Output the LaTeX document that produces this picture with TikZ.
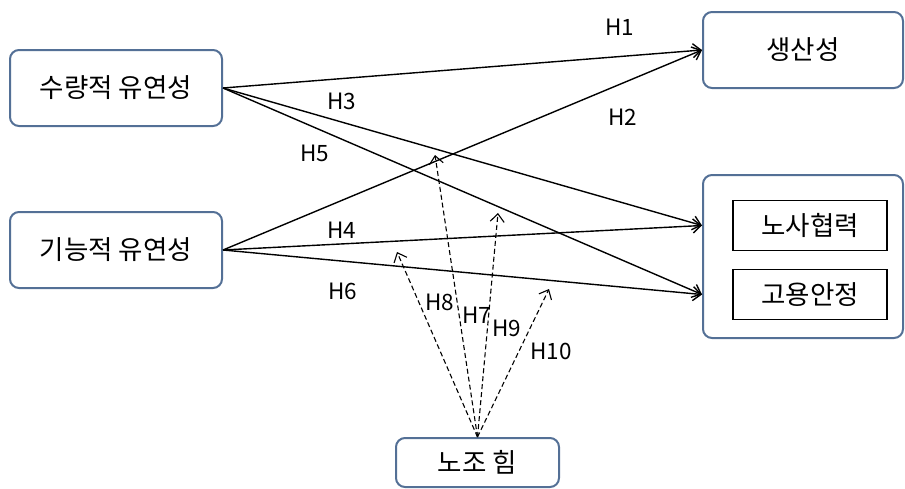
\documentclass[tikz,border=0pt]{standalone}
\usepackage{fontspec}
\setmainfont{Noto Sans CJK KR}
\usetikzlibrary{arrows.meta}
\definecolor{boxblue}{RGB}{84,112,150}

\begin{document}
\begin{tikzpicture}[x=1pt,y=-1pt,
  var/.style={draw=boxblue,line width=2pt,rounded corners=9pt,fill=white,minimum width=212pt,minimum height=76pt,inner sep=0pt,font=\fontsize{26.5}{30}\selectfont},
  sub/.style={draw=black,line width=1.2pt,minimum width=154pt,minimum height=50pt,inner sep=0pt,font=\fontsize{26.5}{30}\selectfont},
  hyp/.style={line width=1.4pt,-{Straight Barb[length=8pt,width=14pt]}},
  mod/.style={hyp,line width=1.1pt,dash pattern=on 5pt off 3pt},
  lab/.style={font=\fontsize{22.5}{26}\selectfont}]
\useasboundingbox (0,0) rectangle (905,488);

\node[var] (qf) at (116,88) {수량적 유연성};
\node[var] (ff) at (116,250) {기능적 유연성};
\node[var,minimum width=200pt] (prod) at (803,50) {생산성};
\node[var,minimum width=200pt,minimum height=163pt] (out) at (803,256.5) {};
\node[sub] (coop) at (810,225.5) {노사협력};
\node[sub] (emp) at (810,294.5) {고용안정};
\node[var,minimum width=163pt,minimum height=49pt] (union) at (477.5,462.5) {노조 힘};

\coordinate (t8) at (397,252);
\coordinate (t7) at (435,155);
\coordinate (t9) at (498,213);
\coordinate (t10) at (549,289);

\draw[hyp] (qf.east) -- (prod.west);
\draw[hyp] (ff.east) -- (prod.west);
\draw[hyp] (qf.east) -- (out.west |- coop.west);
\draw[hyp] (ff.east) -- (out.west |- coop.west);
\draw[hyp] (qf.east) -- (out.west |- emp.west);
\draw[hyp] (ff.east) -- (out.west |- emp.west);

\draw[mod] (union.north) -- (t8);
\draw[mod] (union.north) -- (t7);
\draw[mod] (union.north) -- (t9);
\draw[mod] (union.north) -- (t10);

\node[lab] (h1) at (620,27) {H1};
\node[lab] (h2) at (623,117) {H2};
\node[lab] (h3) at (342,101) {H3};
\node[lab] (h4) at (342,230) {H4};
\node[lab] (h5) at (315,153) {H5};
\node[lab] (h6) at (343,291) {H6};
\node[lab] (h8) at (440,302) {H8};
\node[lab] (h7) at (477,315) {H7};
\node[lab] (h9) at (507,328) {H9};
\node[lab] (h10) at (551,351) {H10};
\end{tikzpicture}
\end{document}
